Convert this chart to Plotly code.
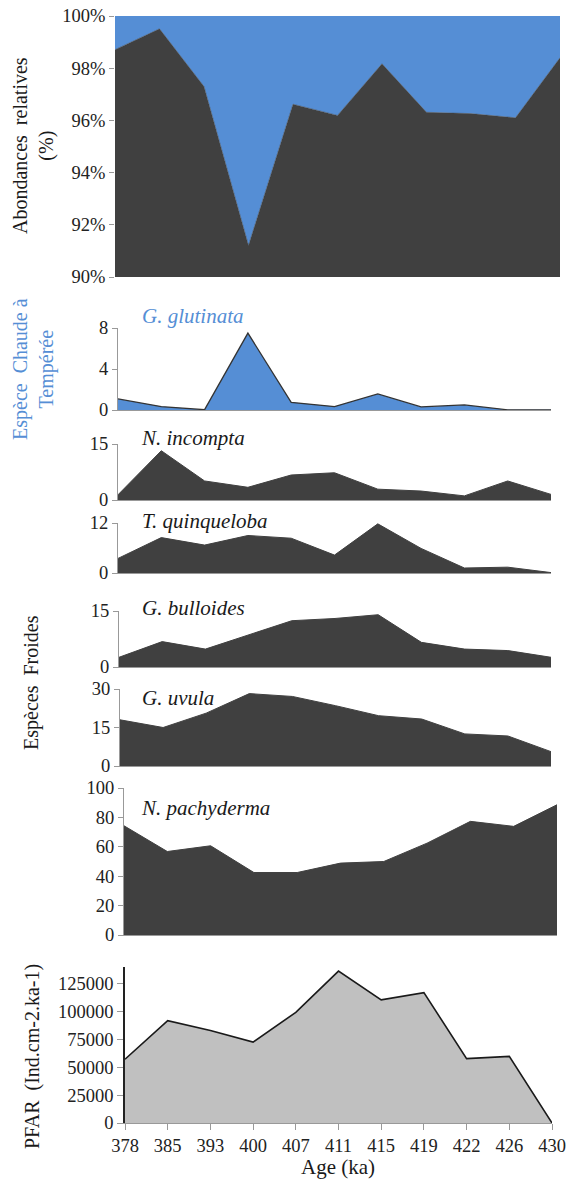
import plotly.graph_objects as go

ages = ["378", "385", "393", "400", "407", "411", "415", "419", "422", "426", "430"]

cold_pct = [98.71, 99.51, 97.30, 91.21, 96.62, 96.19, 98.17, 96.31, 96.26, 96.10, 98.40]
total_pct = [100] * 11
g_glutinata = [1.08, 0.33, 0.03, 7.5, 0.75, 0.33, 1.57, 0.3, 0.5, 0.02, 0.02]
n_incompta = [1.4, 13.2, 5.1, 3.4, 6.7, 7.3, 2.9, 2.4, 1.1, 5.1, 1.5]
t_quinqueloba = [3.5, 8.5, 6.7, 9.0, 8.35, 4.3, 11.8, 5.9, 1.2, 1.4, 0.1]
g_bulloides = [2.6, 6.8, 4.8, 8.7, 12.4, 13.0, 14.0, 6.6, 4.8, 4.4, 2.6]
g_uvula = [18.0, 15.0, 20.6, 28.2, 27.1, 23.5, 19.6, 18.3, 12.5, 11.7, 5.6]
n_pachyderma = [74.3, 56.8, 60.7, 42.5, 42.5, 48.9, 50.0, 62.5, 77.3, 73.9, 88.6]
pfar = [57200, 91800, 83000, 72600, 99300, 136300, 110500, 117000, 57800, 59800, 0]

W, H = 569, 1189
DARK = "#404040"
BLUE = "#558ED5"
FONT = "Liberation Serif, Times New Roman, Times, serif"
TICK = 18.5

def xd(a, b):
    return [a / W, b / W]

def yd(top, bot):
    return [1 - bot / H, 1 - top / H]

fig = go.Figure()

# panel definitions: (xdomain px, ydomain px, range, tickvals)
panels = [
    ((115, 560), (16, 277), [90, 100], [90, 92, 94, 96, 98, 100]),
    ((118, 551), (328, 410), [0, 8], [0, 4, 8]),
    ((118, 551), (444, 500), [0, 15], [0, 15]),
    ((118, 551), (523, 573), [0, 12], [0, 12]),
    ((119, 551), (611, 667), [0, 15], [0, 15]),
    ((120, 551), (689, 766), [0, 30], [0, 15, 30]),
    ((124, 557), (788, 935), [0, 100], [0, 20, 40, 60, 80, 100]),
    ((125, 552), (967, 1123), [0, 140000], [0, 25000, 50000, 75000, 100000, 125000]),
]

layout = dict(
    width=W, height=H, margin=dict(l=0, r=0, t=0, b=0, autoexpand=False),
    paper_bgcolor="white", plot_bgcolor="rgba(0,0,0,0)",
    showlegend=False, font=dict(family=FONT, size=TICK, color="#222"),
)

for i, (xp, yp, rng, tv) in enumerate(panels):
    n = "" if i == 0 else str(i + 1)
    last = i == len(panels) - 1
    layout["xaxis" + n] = dict(
        domain=xd(*xp), anchor="y" + n, type="category", range=[0, 10],
        automargin=False,
        showticklabels=last, showgrid=False, zeroline=False,
        showline=(i != 0), linecolor="#999", linewidth=1,
        ticks="outside" if last else "", ticklen=6, tickcolor="#999",
        tickfont=dict(family=FONT, size=TICK, color="#222"),
    )
    yax = dict(
        domain=yd(*yp), anchor="x" + n, range=rng, tickvals=tv,
        ticktext=[str(v) for v in tv], automargin=False,
        showgrid=False, zeroline=False,
        showline=(i != 0), linecolor="#999" if not last else "#222",
        linewidth=1 if not last else 1.5,
        ticks="outside", ticklen=6 if last else 5, tickcolor="#999",
        tickfont=dict(family=FONT, size=TICK, color="#222"),
    )
    if i == 0:
        yax["ticktext"] = [f"{v}%" for v in tv]
    layout["yaxis" + n] = yax

# Top panel: cold (dark) and warm (blue) complement
fig.add_trace(go.Scatter(x=ages, y=cold_pct, xaxis="x", yaxis="y", mode="lines",
                         line=dict(color=DARK, width=0.5), fill="tozeroy", fillcolor=DARK))
fig.add_trace(go.Scatter(x=ages, y=total_pct, xaxis="x", yaxis="y", mode="lines",
                         line=dict(color=BLUE, width=0.5), fill="tonexty", fillcolor=BLUE))

series = [g_glutinata, n_incompta, t_quinqueloba, g_bulloides, g_uvula, n_pachyderma]
for k, s in enumerate(series):
    n = str(k + 2)
    if k == 0:
        fig.add_trace(go.Scatter(x=ages, y=s, xaxis="x" + n, yaxis="y" + n, mode="lines",
                                 line=dict(color="#333", width=1.3), fill="tozeroy", fillcolor=BLUE))
    else:
        fig.add_trace(go.Scatter(x=ages, y=s, xaxis="x" + n, yaxis="y" + n, mode="lines",
                                 line=dict(color=DARK, width=1), fill="tozeroy", fillcolor=DARK))

fig.add_trace(go.Scatter(x=ages, y=pfar, xaxis="x8", yaxis="y8", mode="lines",
                         line=dict(color="#1a1a1a", width=1.6), fill="tozeroy", fillcolor="#C0C0C0"))

fig.update_layout(**layout)

ann = []
def label(text, xpx, ypx, color="#1a1a1a", size=21):
    ann.append(dict(text=f"<i>{text}</i>", x=xpx / W, y=1 - ypx / H, xref="paper", yref="paper",
                    xanchor="left", yanchor="middle", showarrow=False,
                    font=dict(family=FONT, size=size, color=color)))

label("G. glutinata", 140, 316, color=BLUE)
label("N. incompta", 139, 438)
label("T. quinqueloba", 140, 521)
label("G. bulloides", 140, 608)
label("G. uvula", 140, 698)
label("N. pachyderma", 139, 808)

def vtitle(text, xpx, ypx, color="#1a1a1a", size=20):
    ann.append(dict(text=text, x=xpx / W, y=1 - ypx / H, xref="paper", yref="paper",
                    xanchor="center", yanchor="middle", showarrow=False, textangle=-90,
                    font=dict(family=FONT, size=size, color=color)))

vtitle("Abondances  relatives<br>(%)", 34, 146)
vtitle("Espèce  Chaude à<br>Tempérée", 34, 369, color=BLUE)
vtitle("Espèces  Froides", 31, 683)
vtitle("PFAR  (Ind.cm-2.ka-1)", 32, 1057)

ann.append(dict(text="Age (ka)", x=338 / W, y=1 - 1167 / H, xref="paper", yref="paper",
                xanchor="center", yanchor="middle", showarrow=False,
                font=dict(family=FONT, size=21, color="#1a1a1a")))

fig.update_layout(annotations=ann)
fig.write_html("out.html", config={"displayModeBar": False},
               post_script="document.body.style.margin='0px';")
